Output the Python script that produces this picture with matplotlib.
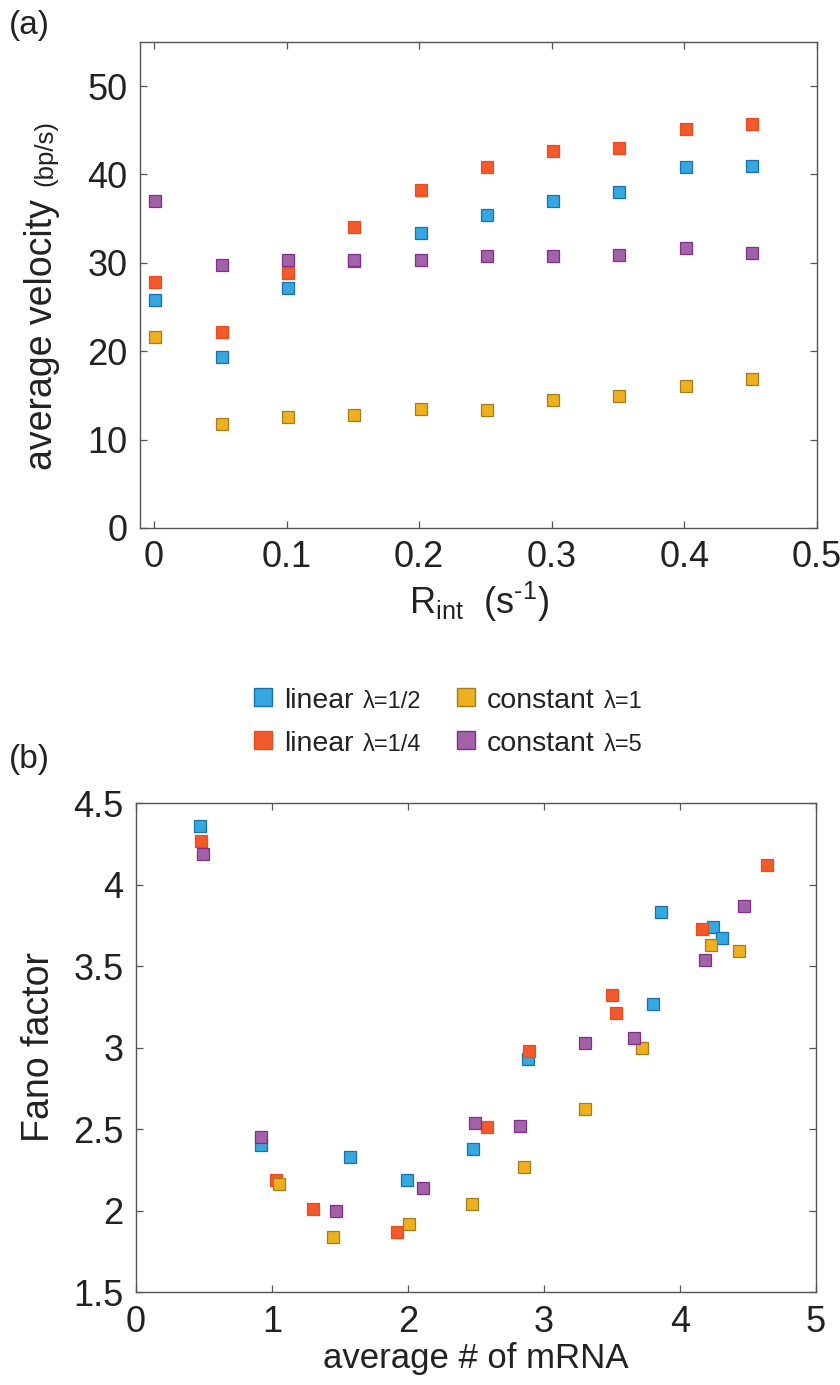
import matplotlib
matplotlib.use("Agg")
import matplotlib.pyplot as plt
from matplotlib.lines import Line2D
from matplotlib.offsetbox import AnchoredOffsetbox, DrawingArea, HPacker, TextArea

plt.rcParams["font.family"] = ["Liberation Sans", "DejaVu Sans"]
plt.rcParams["mathtext.fontset"] = "custom"
plt.rcParams["mathtext.rm"] = "Liberation Sans"
plt.rcParams["mathtext.it"] = "Liberation Sans:italic"

# panel (a): average velocity vs R_int
r_int = [0.001, 0.051, 0.101, 0.151, 0.201, 0.251, 0.301, 0.351, 0.401, 0.451]
vel_lin_half = [25.8, 19.3, 27.1, 30.2, 33.4, 35.4, 37.0, 38.0, 40.8, 41.0]
vel_lin_quarter = [27.8, 22.2, 28.8, 34.0, 38.2, 40.8, 42.6, 43.0, 45.1, 45.7]
vel_const_1 = [21.6, 11.8, 12.5, 12.8, 13.5, 13.4, 14.5, 14.9, 16.1, 16.8]
vel_const_5 = [37.0, 29.8, 30.3, 30.3, 30.3, 30.8, 30.8, 30.9, 31.7, 31.1]

# panel (b): Fano factor vs average # of mRNA
mrna_lin_half = [0.47, 0.92, 1.57, 1.99, 2.48, 2.88, 3.80, 3.86, 4.24, 4.31]
fano_lin_half = [4.36, 2.40, 2.33, 2.19, 2.38, 2.93, 3.27, 3.83, 3.74, 3.67]
mrna_lin_quarter = [0.48, 1.03, 1.30, 1.92, 2.58, 2.89, 3.50, 3.53, 4.16, 4.64]
fano_lin_quarter = [4.27, 2.19, 2.01, 1.87, 2.51, 2.98, 3.32, 3.21, 3.73, 4.12]
mrna_const_1 = [1.05, 1.45, 2.01, 2.47, 2.85, 3.30, 3.72, 4.23, 4.43]
fano_const_1 = [2.16, 1.84, 1.92, 2.04, 2.27, 2.62, 3.00, 3.63, 3.59]
mrna_const_5 = [0.49, 0.92, 1.47, 2.11, 2.49, 2.82, 3.30, 3.66, 4.18, 4.47]
fano_const_5 = [4.19, 2.45, 2.00, 2.14, 2.54, 2.52, 3.03, 3.06, 3.54, 3.87]

SERIES = [
    ("linear", "\u03bb=1/2", "#35a8e0", "#1c6fae"),
    ("linear", "\u03bb=1/4", "#f25a2b", "#e84d20"),
    ("constant", "\u03bb=1", "#edb120", "#a47c1c"),
    ("constant", "\u03bb=5", "#a362a8", "#7e2f8e"),
]

TXT = "#222222"
FRAME = "#555555"


def style_axes(ax):
    for s in ax.spines.values():
        s.set_color(FRAME)
        s.set_linewidth(1.0)
    ax.tick_params(direction="in", length=5, width=0.9, color=FRAME,
                   top=True, right=True, labelsize=26, labelcolor=TXT, pad=9)


fig = plt.figure(figsize=(8.4, 13.85), dpi=100)

ax_a = fig.add_axes([0.1667, 0.6188, 0.806, 0.351])
for (kind, lam, fc, ec), ys in zip(SERIES, [vel_lin_half, vel_lin_quarter, vel_const_1, vel_const_5]):
    ax_a.plot(r_int, ys, ls="none", marker="s", ms=8.5, mfc=fc, mec=ec, mew=0.9)
ax_a.set_xlim(-0.0105, 0.5)
ax_a.set_ylim(0, 55)
ax_a.set_xticks([0, 0.1, 0.2, 0.3, 0.4, 0.5])
ax_a.set_xticklabels(["0", "0.1", "0.2", "0.3", "0.4", "0.5"])
ax_a.set_yticks([0, 10, 20, 30, 40, 50])
style_axes(ax_a)
ax_a.set_xlabel(r"$\mathregular{R_{int}\ \ (s^{\text{-}1})}$", fontsize=26, color=TXT, labelpad=3)

# y label made of two sizes
fig.text(0.062, 0.661, "average velocity", rotation=90, rotation_mode="anchor",
         ha="left", va="baseline", fontsize=27, color=TXT)
fig.text(0.062, 0.866, "(bp/s)", rotation=90, rotation_mode="anchor",
         ha="left", va="baseline", fontsize=18.5, color=TXT)

ax_b = fig.add_axes([0.162, 0.0671, 0.8095, 0.3531])
for (kind, lam, fc, ec), xs, ys in zip(
        SERIES,
        [mrna_lin_half, mrna_lin_quarter, mrna_const_1, mrna_const_5],
        [fano_lin_half, fano_lin_quarter, fano_const_1, fano_const_5]):
    ax_b.plot(xs, ys, ls="none", marker="s", ms=8.5, mfc=fc, mec=ec, mew=0.9)
ax_b.set_xlim(0, 5)
ax_b.set_ylim(1.5, 4.5)
ax_b.set_xticks([0, 1, 2, 3, 4, 5])
ax_b.set_yticks([1.5, 2, 2.5, 3, 3.5, 4, 4.5])
ax_b.set_yticklabels(["1.5", "2", "2.5", "3", "3.5", "4", "4.5"])
style_axes(ax_b)
ax_b.set_xlabel("average # of mRNA", fontsize=25, color=TXT, labelpad=2)
ax_b.set_ylabel("Fano factor", fontsize=27, color=TXT, labelpad=12)

# legend between the panels, two columns, mixed text sizes
LEG_POS = [(0.300, 0.4946), (0.300, 0.4635), (0.541, 0.4946), (0.541, 0.4635)]
for (kind, lam, fc, ec), (lx, ly) in zip(SERIES, LEG_POS):
    da = DrawingArea(16, 16, 0, 0)
    da.add_artist(Line2D([8], [8], ls="none", marker="s", ms=12.5, mfc=fc, mec=ec, mew=1.0))
    t1 = TextArea(kind, textprops=dict(fontsize=20.5, color=TXT))
    t2 = TextArea(lam, textprops=dict(fontsize=17, color=TXT))
    row = HPacker(children=[da, t1, t2], align="baseline", pad=0, sep=7)
    box = AnchoredOffsetbox(loc="center left", child=row, pad=0, borderpad=0, frameon=False,
                            bbox_to_anchor=(lx, ly), bbox_transform=fig.transFigure)
    fig.add_artist(box)

fig.text(0.010, 0.993, "(a)", ha="left", va="top", fontsize=24, color=TXT)
fig.text(0.010, 0.4625, "(b)", ha="left", va="top", fontsize=24, color=TXT)

fig.savefig("out.png", dpi=100)
